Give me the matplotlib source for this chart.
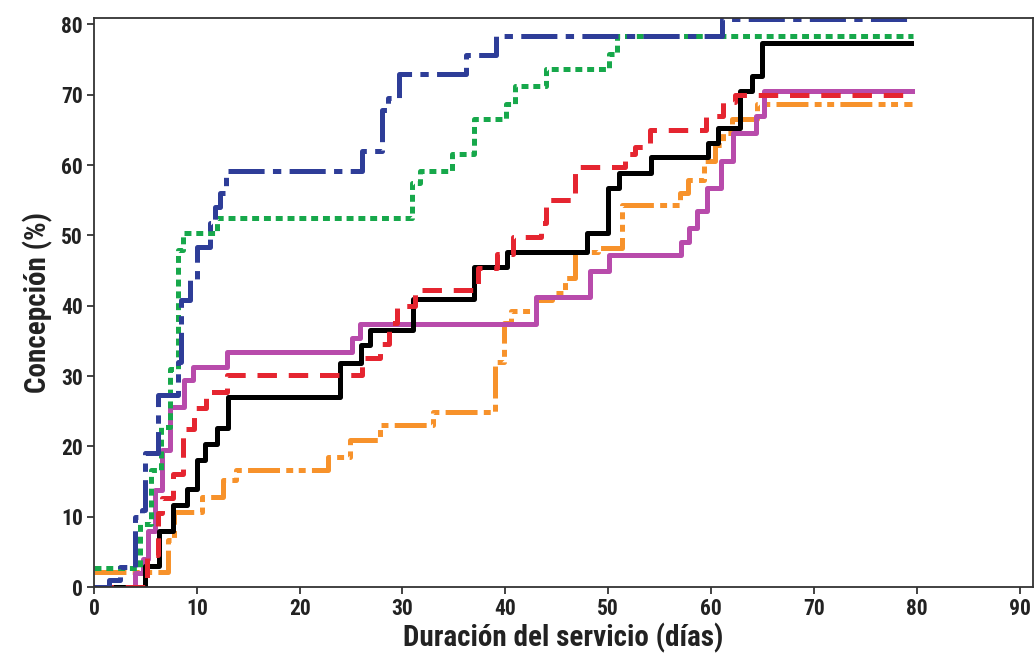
import matplotlib
matplotlib.use("Agg")
import matplotlib.pyplot as plt
from matplotlib import font_manager

names = {f.name for f in font_manager.fontManager.ttflist}
fam = "DejaVu Sans"
for cand in ["DejaVu Sans Condensed", "Liberation Sans Narrow", "Roboto Condensed", "DejaVu Sans"]:
    if cand in names:
        fam = cand
        break
plt.rcParams["font.family"] = [fam, "DejaVu Sans"]
plt.rcParams["lines.scale_dashes"] = False

# ---- data (days, conception %) ----
days_blue = [0, 1.5, 2.5, 4.0, 4.7, 5.0, 6.2, 8.2, 8.5, 9.3, 10.0, 11.3, 11.8, 12.3, 12.8,
             26.1, 28.0, 28.6, 29.7, 36.2, 39.1, 61.1, 79.3]
pct_blue = [0, 1, 2.8, 10, 11, 19, 27.3, 32, 40.8, 43.6, 48.3, 51.7, 54, 56, 59.2,
            62, 67.8, 69.5, 73, 75.6, 78.4, 80.7, 80.7]

days_green = [0, 4.5, 5.5, 6.5, 7.4, 8.2, 8.7, 12.0, 30.9, 31.7, 34.8, 37.0, 40.1, 40.9,
              44.0, 50.1, 50.9, 79.6]
pct_green = [2.7, 9, 16.6, 22.7, 31, 47.9, 50.4, 52.4, 57.4, 59.2, 61.6, 66.6, 68.7, 71.3,
             73.7, 75.8, 78.4, 78.4]

days_red = [0, 5.2, 6.2, 6.6, 7.7, 8.7, 9.7, 10.9, 12.9, 26.1, 27.8, 28.7, 29.5, 31.2,
            37.3, 39.2, 40.7, 43.5, 44.0, 46.8, 51.6, 52.6, 54.1, 59.5, 61.2, 62.3, 79.5]
pct_red = [0, 4.5, 10.5, 12.6, 16, 22.5, 25.5, 27.7, 30.1, 32.5, 34.5, 37.5, 40, 42.3,
           45.3, 47.4, 49.7, 51.7, 55, 59.7, 61.6, 62.5, 65, 67, 69, 70, 70]

days_black = [0, 5.0, 6.3, 7.7, 9.0, 10.0, 10.8, 12.0, 13.0, 23.9, 26.0, 26.8, 31.0, 37.0,
              40.2, 47.9, 50.0, 51.1, 54.2, 59.7, 60.7, 62.8, 64.0, 65.0, 79.4]
pct_black = [0, 3, 8, 11.6, 14, 18, 20.4, 22.6, 27, 31.8, 34.4, 36.5, 41, 45.5,
             47.7, 50.3, 56.7, 58.8, 61.1, 63.2, 65.3, 70.5, 72.7, 77.3, 77.3]

days_magenta = [0, 4.0, 4.8, 5.3, 5.9, 6.6, 7.4, 8.8, 9.6, 12.9, 25.1, 25.9, 43.0, 48.2,
                50.1, 57.1, 57.9, 58.6, 59.6, 61.0, 62.1, 64.4, 65.2, 79.5]
pct_magenta = [0, 2, 4, 8, 13.8, 19.5, 25.6, 29.4, 31.3, 33.4, 35.4, 37.4, 41.2, 45,
               47.2, 49, 51, 53.5, 56.8, 60.6, 64.5, 67, 70.5, 70.5]

days_orange = [0, 7.2, 7.8, 10.5, 12.5, 13.8, 22.8, 24.9, 27.8, 33.0, 39.0, 39.9, 40.6,
               43.0, 44.5, 45.8, 46.8, 49.0, 51.3, 57.0, 57.8, 59.3, 60.4, 61.2, 62.0,
               64.5, 79.5]
pct_orange = [2.1, 6.7, 10.6, 12.8, 15.2, 16.6, 18.5, 20.9, 23, 24.9, 32, 37.5, 39.3,
              40.8, 41.8, 44, 47.6, 48.2, 54.3, 56, 57.8, 60.6, 62.8, 64.5, 66.6,
              68.7, 68.7]

x_ticks = [0, 10, 20, 30, 40, 50, 60, 70, 80, 90]
y_ticks = [0, 10, 20, 30, 40, 50, 60, 70, 80]

fig = plt.figure(figsize=(10.36, 6.55), dpi=100)
ax = fig.add_axes([0.0907, 0.1038, 0.9063, 0.8687])

lw = 3.6
ax.plot(days_orange, pct_orange, drawstyle="steps-post", color="#F7922B", lw=lw,
        dashes=(23, 4.5, 5, 4, 5, 4.5))
ax.plot(days_magenta, pct_magenta, drawstyle="steps-post", color="#B84BAB", lw=lw)
ax.plot(days_black, pct_black, drawstyle="steps-post", color="#000000", lw=lw)
ax.plot(days_red, pct_red, drawstyle="steps-post", color="#E52530", lw=lw,
        dashes=(14, 8.5))
ax.plot(days_green, pct_green, drawstyle="steps-post", color="#17A84B", lw=lw,
        dashes=(5, 3.5))
ax.plot(days_blue, pct_blue, drawstyle="steps-post", color="#2E3D98", lw=lw,
        dashes=(26, 6, 6, 6))

ax.set_xlim(0, 91.3)
ax.set_ylim(0, 80.9)
ax.set_xticks(x_ticks)
ax.set_yticks(y_ticks)
ax.tick_params(axis="both", direction="out", length=5, width=1.2, labelsize=15.5,
               colors="#222222", pad=3)
for lab in ax.get_xticklabels() + ax.get_yticklabels():
    lab.set_fontweight("bold")
for s in ax.spines.values():
    s.set_linewidth(1.3)
    s.set_color("#333333")

ax.set_xlabel("Duración del servicio (días)", fontsize=21, fontweight="bold",
              color="#222222", labelpad=2)
ax.set_ylabel("Concepción (%)", fontsize=21, fontweight="bold", color="#222222",
              labelpad=6)

fig.savefig("out.png", dpi=100)
